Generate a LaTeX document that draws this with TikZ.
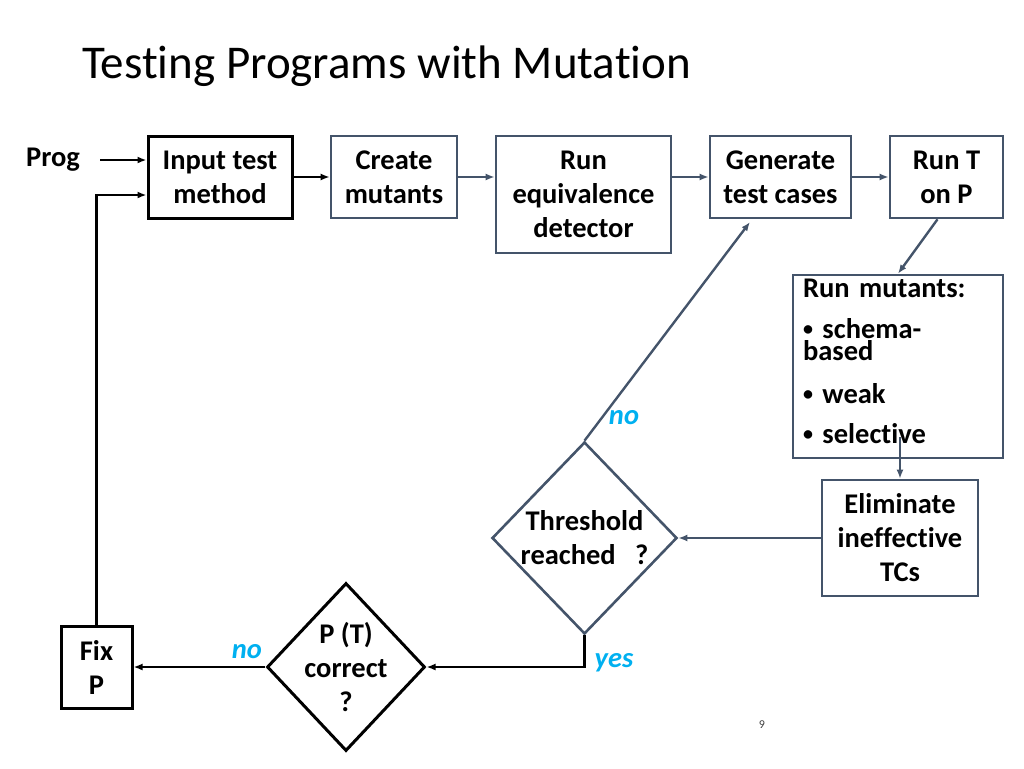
\documentclass[tikz,border=0pt]{standalone}
\usepackage{fontspec}
\setmainfont{Carlito}[Ligatures=NoCommon]
\usetikzlibrary{arrows.meta,calc,positioning,shapes.geometric}
\definecolor{slate}{RGB}{68,84,106}
\definecolor{skyblue}{RGB}{0,176,240}
\newcommand{\smbul}{\raisebox{3pt}{\fontsize{20}{20}\selectfont\textbullet}}

\begin{document}
\begin{tikzpicture}[x=1pt,y=-1pt,
  txt/.style={font=\bfseries\fontsize{28.5}{34}\selectfont, align=center, inner sep=0pt},
  box/.style={txt, draw=slate, line width=2.6pt},
  bbox/.style={txt, draw=black, line width=3pt},
  dia/.style={txt, shape=diamond, inner sep=-14pt},
  gry/.style={draw=slate, line width=2.4pt, -{Latex[length=9pt,width=7pt]}},
  blk/.style={draw=black, line width=2.6pt, -{Latex[length=9pt,width=7pt]}},
  yn/.style={font=\bfseries\itshape\fontsize{28.5}{30}\selectfont, text=skyblue, inner sep=0pt}]
\useasboundingbox (0,0) rectangle (1024,768);
\node[anchor=base west, font=\fontsize{47}{50}\selectfont, inner sep=0pt] (title) at (82,78) {Testing Programs with Mutation};
\node[txt] (prog) at (53,160) {Prog};
\node[bbox, minimum width=144, minimum height=82] (inp) at (220,177) {Input test\\method};
\node[box, minimum width=126, minimum height=82] (cre) at (394,177) {Create\\mutants};
\node[box, minimum width=175, minimum height=117] (equ) at (583.5,194.5) {Run\\equivalence\\detector};
\node[box, minimum width=141, minimum height=82] (gen) at (780.5,177) {Generate\\test cases};
\node[box, minimum width=113, minimum height=82] (runt) at (946.5,177) {Run T\\on P};
\node[box, minimum width=210, minimum height=183, align=left, text width=190, inner xsep=10pt,
  font=\bfseries\fontsize{28.5}{22}\selectfont] (mut) at (898,366.5)
  {Run mutants:\\[19pt]\smbul\ schema-\\based\\[21pt]\smbul\ weak\\[18pt]\smbul\ selective\rule[-11pt]{0pt}{1pt}};
\node[box, minimum width=156, minimum height=116] (elim) at (900,538) {Eliminate\\ineffective\\TCs};
\node[dia, draw=slate, line width=2.6pt, minimum width=185, minimum height=192] (thr) at (584.5,538) {Threshold\\reached\ \ \ ?};
\node[dia, draw=black, line width=3pt, minimum width=158, minimum height=168] (cor) at (346,667) {P (T)\\correct\\?};
\node[bbox, minimum width=71, minimum height=82] (fix) at (96.5,667) {Fix\\P};
\node[font=\fontsize{12}{14}\selectfont, text=darkgray] (pg) at (762,725) {9};
\coordinate (m1) at (900,437);
\coordinate (g1) at (750,222);
\draw[blk] (prog.east) ++(20,0) -- (prog -| inp.west);
\draw[blk] (inp) -- (cre);
\draw[gry] (cre.east) -- (cre.east -| equ.west);
\draw[gry] (equ.east |- gen) -- (gen);
\draw[gry] (gen) -- (runt);
\draw[gry] ($(runt.south)+(-9,0)$) -- (mut.north);
\draw[gry] (m1) -- (elim.north);
\draw[gry] (elim) -- (thr);
\draw[gry] (thr.north) -- (g1);
\draw[blk] (thr.south) |- (cor.east);
\draw[blk] (cor) -- (fix);
\draw[blk] (fix.north) |- ($(inp.west)+(0,18)$);
\node[yn] (no1) at (624,418) {no};
\node[yn] (yes) at (614,663) {yes};
\node[yn] (no2) at (247,652) {no};
\end{tikzpicture}
\end{document}
